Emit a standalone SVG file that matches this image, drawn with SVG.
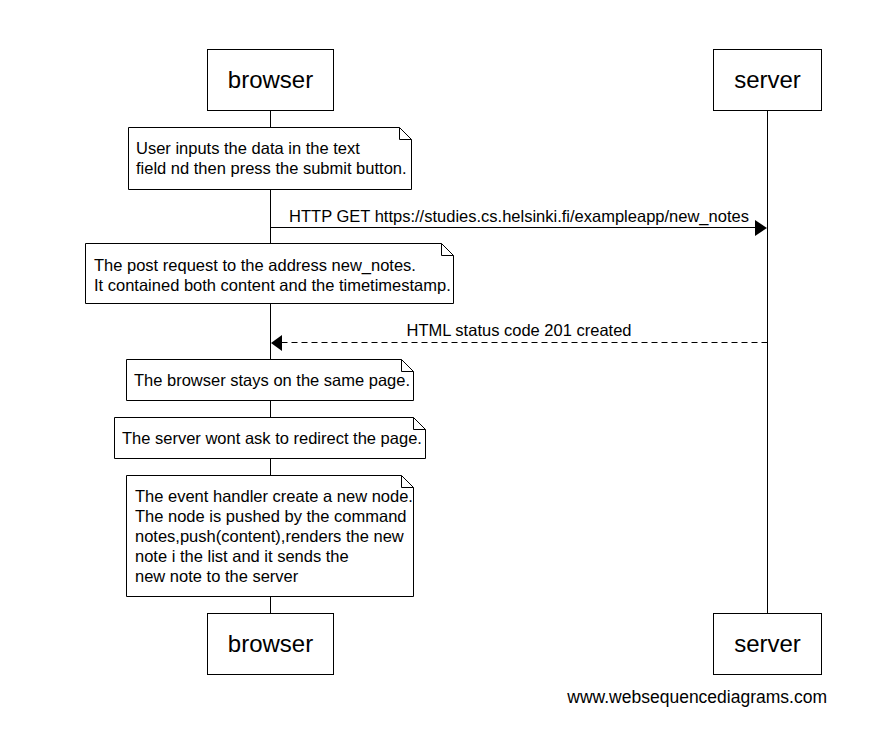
<svg xmlns="http://www.w3.org/2000/svg" width="871" height="756" viewBox="0 0 871 756">
<defs>
<style>
.box{fill:#fff;stroke:#000;stroke-width:1}
.life{stroke:#000;stroke-width:1;fill:none}
.note{fill:#fff;stroke:#000;stroke-width:1}
.fold{fill:none;stroke:#000;stroke-width:1}
.lbl{font-family:"Liberation Sans",Arial,sans-serif;font-size:24px;fill:#000;text-anchor:middle}
.nt{font-family:"Liberation Sans",Arial,sans-serif;font-size:16.5px;fill:#000}
.mt{font-family:"Liberation Sans",Arial,sans-serif;font-size:16.5px;fill:#000;text-anchor:middle}
.wm{font-family:"Liberation Sans",Arial,sans-serif;font-size:17.5px;fill:#000;text-anchor:end}
.msg{stroke:#000;stroke-width:1;fill:none}
.dash{stroke-dasharray:6 4}
</style>
</defs>
<rect width="871" height="756" fill="#fff"/>
<g id="lifelines">
<line class="life" x1="270.5" y1="110" x2="270.5" y2="613"/>
<line class="life" x1="767.5" y1="110" x2="767.5" y2="613"/>
</g>
<g id="browser-top">
<rect class="box" x="207.5" y="49.5" width="126" height="61"/>
<text class="lbl" x="270.5" y="88">browser</text>
</g>
<g id="server-top">
<rect class="box" x="713.5" y="49.5" width="108" height="61"/>
<text class="lbl" x="767.5" y="88">server</text>
</g>
<g id="browser-bottom">
<rect class="box" x="207.5" y="613.5" width="126" height="61"/>
<text class="lbl" x="270.5" y="652">browser</text>
</g>
<g id="server-bottom">
<rect class="box" x="713.5" y="613.5" width="108" height="61"/>
<text class="lbl" x="767.5" y="652">server</text>
</g>
<g id="note1">
<path class="note" d="M128.5,127.5 H399.5 L411.5,139.5 V189.5 H128.5 Z"/>
<path class="fold" d="M399.5,127.5 V139.5 H411.5"/>
<text class="nt" x="136" y="154">User inputs the data in the text</text>
<text class="nt" x="136" y="174">field nd then press the submit button.</text>
</g>
<g id="note2">
<path class="note" d="M85.5,243.5 H441.5 L453.5,255.5 V303.5 H85.5 Z"/>
<path class="fold" d="M441.5,243.5 V255.5 H453.5"/>
<text class="nt" x="94" y="271">The post request to the address new_notes.</text>
<text class="nt" x="94" y="291">It contained both content and the timetimestamp.</text>
</g>
<g id="note3">
<path class="note" d="M126.5,359.5 H401.5 L413.5,371.5 V400.5 H126.5 Z"/>
<path class="fold" d="M401.5,359.5 V371.5 H413.5"/>
<text class="nt" x="134" y="386">The browser stays on the same page.</text>
</g>
<g id="note4">
<path class="note" d="M114.5,417.5 H413.5 L425.5,429.5 V458.5 H114.5 Z"/>
<path class="fold" d="M413.5,417.5 V429.5 H425.5"/>
<text class="nt" x="122" y="444">The server wont ask to redirect the page.</text>
</g>
<g id="note5">
<path class="note" d="M126.5,475.5 H401.5 L413.5,487.5 V596.5 H126.5 Z"/>
<path class="fold" d="M401.5,475.5 V487.5 H413.5"/>
<text class="nt" x="135" y="502">The event handler create a new node.</text>
<text class="nt" x="135" y="522">The node is pushed by the command</text>
<text class="nt" x="135" y="542">notes,push(content),renders the new</text>
<text class="nt" x="135" y="562">note i the list and it sends the</text>
<text class="nt" x="135" y="582">new note to the server</text>
</g>
<g id="connectors">
<line class="msg" x1="270.5" y1="227.5" x2="756" y2="227.5"/>
<polygon points="767,228 755,220 755,236" fill="#000"/>
<text class="mt" x="519" y="222">HTTP GET https://studies.cs.helsinki.fi/exampleapp/new_notes</text>
<line class="msg dash" x1="767.5" y1="342.5" x2="282" y2="342.5"/>
<polygon points="271,343 282,335 282,351" fill="#000"/>
<text class="mt" x="519" y="336">HTML status code 201 created</text>
</g>
<text class="wm" x="827" y="703">www.websequencediagrams.com</text>
</svg>
